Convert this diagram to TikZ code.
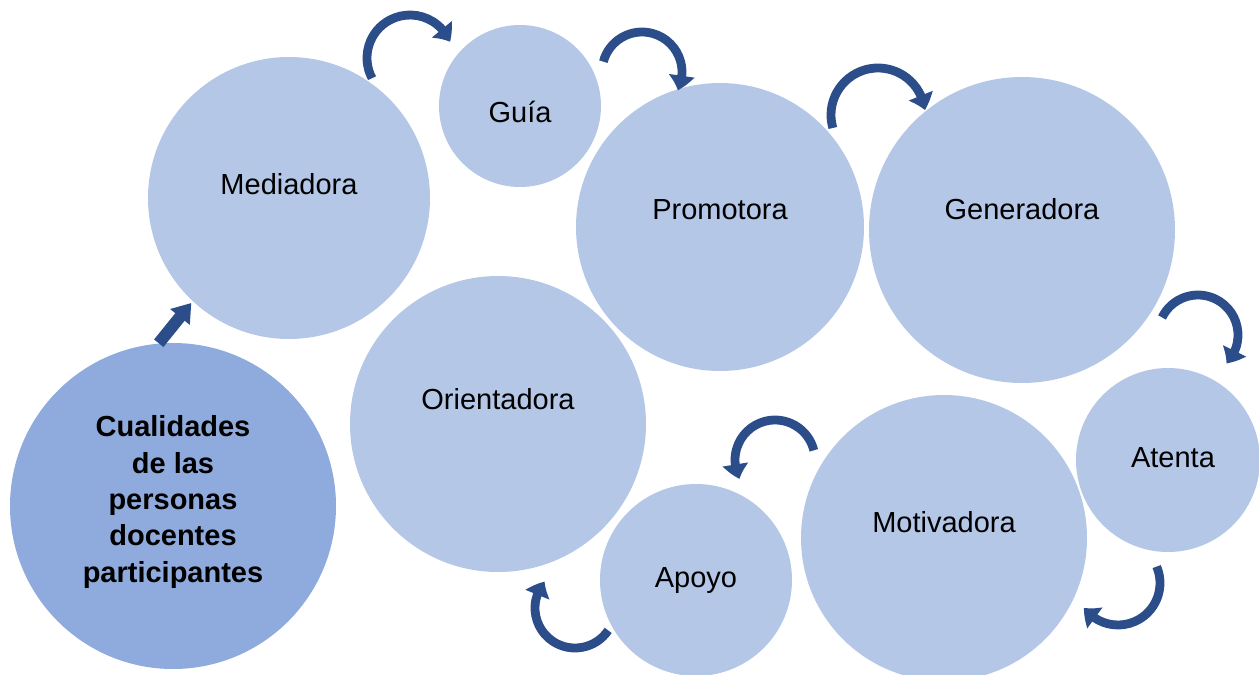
\documentclass[tikz,border=0pt]{standalone}
\usepackage{fontspec}
\setmainfont{Liberation Sans}
\usetikzlibrary{arrows.meta,bending}
\definecolor{cLight}{HTML}{B4C7E7}
\definecolor{cDark}{HTML}{8FAADC}
\definecolor{cArr}{HTML}{2B4D8A}
\begin{document}
\begin{tikzpicture}[x=0.5pt,y=-0.5pt,
 circ/.style={circle,fill=cLight,draw=none,inner sep=0pt,minimum size=#1*1pt},
 lbl/.style={font=\fontsize{14.5}{18}\selectfont,align=center,inner sep=0pt},
 carr/.style={draw=cArr,line width=4.4pt,-{Triangle[length=7.5pt,width=12.5pt,bend]}},
 sarr/.style={draw=cArr,line width=6pt,-{Triangle[length=9pt,width=12pt]}},
]
\useasboundingbox (0,0) rectangle (1259,675);
% circles
\node[circ=163,fill=cDark] (cual) at (173,506) {};
\node[circ=141] (med) at (289,198) {};
\node[circ=81] (gui) at (520,106) {};
\node[circ=144] (pro) at (720,227) {};
\node[circ=153] (gen) at (1022,230) {};
\node[circ=148] (ori) at (498,424) {};
\node[circ=92] (ate) at (1168,460) {};
\node[circ=143] (mot) at (944,538) {};
\node[circ=96] (apo) at (696,580) {};
% labels
\node[lbl,font=\fontsize{14.5}{18.2}\selectfont\bfseries] (cualt) at (173,502) {Cualidades\\de las\\personas\\docentes\\participantes};
\node[lbl] (medt) at (289,184) {Mediadora};
\node[lbl] (guit) at (520,112) {Guía};
\node[lbl] (prot) at (720,210) {Promotora};
\node[lbl] (gent) at (1022,209) {Generadora};
\node[lbl] (orit) at (498,399) {Orientadora};
\node[lbl] (atet) at (1173,458) {Atenta};
\node[lbl] (mott) at (944,522) {Motivadora};
\node[lbl] (apot) at (696,581) {Apoyo};
% straight arrow
\draw[sarr,shorten >=1pt] (cual.95) -- (med.227);
% curved arrows
\coordinate (c1) at (410,58);
\draw[carr] (c1) ++(-208:43) arc[start angle=-208,end angle=-22,radius=43];
\coordinate (c2) at (642,72);
\draw[carr] (c2) ++(-165:40) arc[start angle=-165,end angle=27,radius=40];
\coordinate (c3) at (878,115);
\draw[carr] (c3) ++(-196:47) arc[start angle=-196,end angle=-6,radius=47];
\coordinate (c4) at (1198,335);
\draw[carr] (c4) ++(-154:40) arc[start angle=-154,end angle=45,radius=40];
\coordinate (c5) at (1118,583);
\draw[carr] (c5) ++(-23:42) arc[start angle=-23,end angle=144,radius=42];
\coordinate (c6) at (775,460);
\draw[carr] (c6) ++(-14:40) arc[start angle=-14,end angle=-208,radius=40];
\coordinate (c7) at (575,608);
\draw[carr] (c7) ++(34:40) arc[start angle=34,end angle=221,radius=40];
\end{tikzpicture}
\end{document}
